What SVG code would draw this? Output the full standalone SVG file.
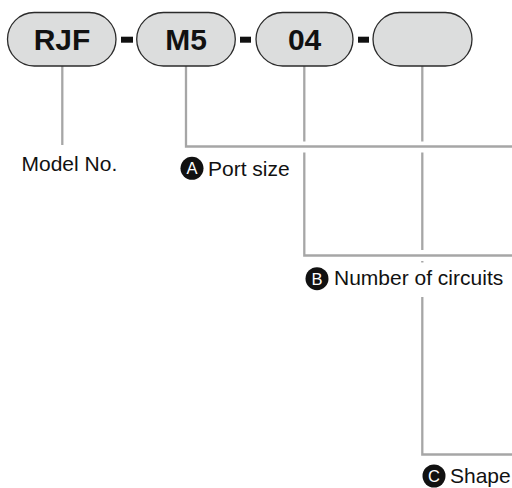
<svg xmlns="http://www.w3.org/2000/svg" width="512" height="488" viewBox="0 0 512 488">
<style>
.pill{fill:#dcdddd;stroke:#2b2b2b;stroke-width:1.3}
.code{font-family:"Liberation Sans",Arial,sans-serif;font-weight:bold;font-size:30px;fill:#111;text-anchor:middle}
.dash{fill:#111}
.ln{stroke:#a6a6a6;stroke-width:2.3;fill:none}
.lbl{font-family:"Liberation Sans",Arial,sans-serif;font-size:21px;fill:#111}
.badge{fill:#111}
.bl{font-family:"Liberation Sans",Arial,sans-serif;font-size:16.5px;fill:#fff;text-anchor:middle}
</style>
<rect width="512" height="488" fill="#fff"/>
<g id="connectors">
<path class="ln" d="M62.3,66 V145"/>
<path class="ln" d="M186,66 V146.5 H512"/>
<path class="ln" d="M304.3,66 V141.5 M304.3,152.5 V255.5 H512"/>
<path class="ln" d="M422.3,66 V141.5 M422.3,152.5 V250 M422.3,261 V262.5 M422.3,297 V454.5 H512"/>
</g>
<g id="node-rjf">
<rect class="pill" x="7.5" y="12.5" width="108.5" height="53.5" rx="26.75"/>
<text class="code" x="62" y="50">RJF</text>
</g>
<rect class="dash" x="121" y="36.7" width="12" height="6"/>
<g id="node-m5">
<rect class="pill" x="136.7" y="12.5" width="98.6" height="53.5" rx="26.75"/>
<text class="code" x="186" y="50">M5</text>
</g>
<rect class="dash" x="240" y="36.7" width="11" height="6"/>
<g id="node-04">
<rect class="pill" x="256" y="12.5" width="97" height="53.5" rx="26.75"/>
<text class="code" x="304.6" y="50">04</text>
</g>
<rect class="dash" x="358" y="36.7" width="11" height="6"/>
<g id="node-shape">
<rect class="pill" x="373" y="12.5" width="99" height="53.5" rx="26.75"/>
</g>
<g id="label-model">
<text class="lbl" x="21.5" y="170.7">Model No.</text>
</g>
<g id="label-a">
<circle class="badge" cx="192" cy="168.3" r="11.5"/>
<text class="bl" x="192" y="174.3">A</text>
<text class="lbl" x="208" y="176">Port size</text>
</g>
<g id="label-b">
<circle class="badge" cx="317" cy="278.7" r="11.5"/>
<text class="bl" x="317" y="284.7">B</text>
<text class="lbl" x="334" y="285">Number of circuits</text>
</g>
<g id="label-c">
<circle class="badge" cx="434" cy="476" r="11.5"/>
<text class="bl" x="434" y="482">C</text>
<text class="lbl" x="450" y="483.3">Shape</text>
</g>
</svg>
